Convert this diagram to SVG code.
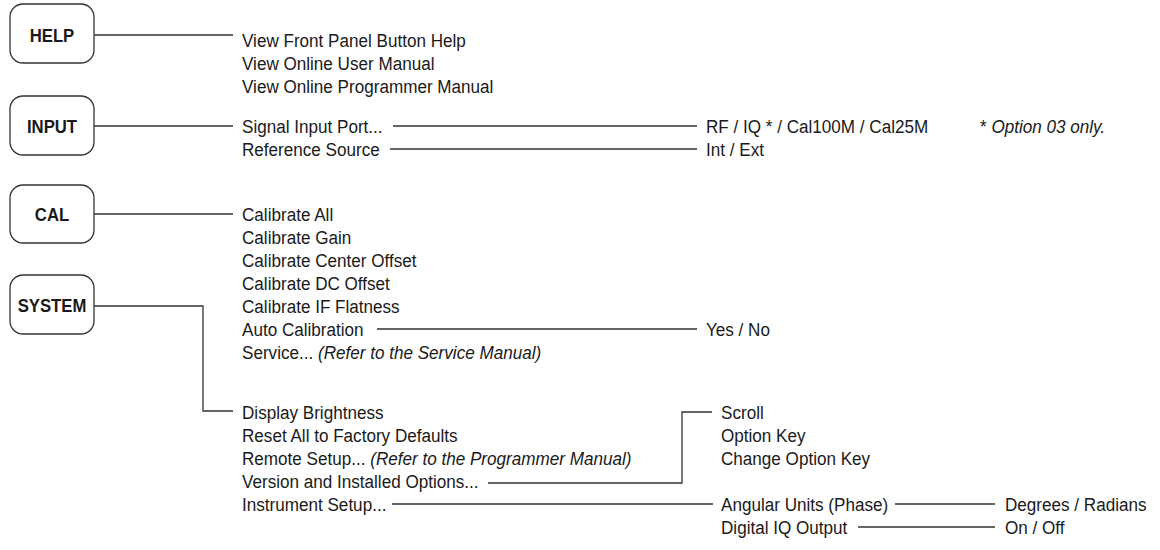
<svg xmlns="http://www.w3.org/2000/svg" width="1160" height="550" viewBox="0 0 1160 550">
<style>
.box{fill:#fff;stroke:#333;stroke-width:1.3}
.btn{font-family:"Liberation Sans",Arial,sans-serif;font-weight:bold;font-size:19px;fill:#1a1a1a;text-anchor:middle}
.t{font-family:"Liberation Sans",Arial,sans-serif;font-size:19px;fill:#1a1a1a}
.i{font-style:italic}
.c{fill:none;stroke:#333;stroke-width:1.3}
</style>
<rect width="1160" height="550" fill="#fff"/>
<g id="help"><rect class="box" x="10" y="4" width="84" height="59" rx="13"/><text class="btn" transform="translate(52 42) scale(0.88 1)">HELP</text></g>
<g id="input"><rect class="box" x="10" y="96" width="84" height="59" rx="13"/><text class="btn" transform="translate(52 133) scale(0.88 1)">INPUT</text></g>
<g id="cal"><rect class="box" x="10" y="185" width="84" height="58" rx="13"/><text class="btn" transform="translate(52 221) scale(0.88 1)">CAL</text></g>
<g id="system"><rect class="box" x="10" y="275" width="84" height="59" rx="13"/><text class="btn" transform="translate(52 312) scale(0.88 1)">SYSTEM</text></g>
<g id="connectors">
<path class="c" d="M94 35H233"/>
<path class="c" d="M94 126H233"/>
<path class="c" d="M94 214H233"/>
<path class="c" d="M94 306H203V411H233"/>
<path class="c" d="M393 126H697"/>
<path class="c" d="M390 149H697"/>
<path class="c" d="M377 329H697"/>
<path class="c" d="M488 483H682V412H712"/>
<path class="c" d="M392 504H713"/>
<path class="c" d="M895 504H995"/>
<path class="c" d="M858 527H995"/>
</g>
<g id="help-items">
<text class="t" transform="translate(242 47) scale(0.9 1)">View Front Panel Button Help</text>
<text class="t" transform="translate(242 70) scale(0.9 1)">View Online User Manual</text>
<text class="t" transform="translate(242 93) scale(0.9 1)">View Online Programmer Manual</text>
</g>
<g id="input-items">
<text class="t" transform="translate(242 133) scale(0.9 1)">Signal Input Port...</text>
<text class="t" transform="translate(242 156) scale(0.9 1)">Reference Source</text>
</g>
<g id="input-values">
<text class="t" transform="translate(706 133) scale(0.9 1)">RF / IQ * / Cal100M / Cal25M</text>
<text class="t" transform="translate(706 156) scale(0.9 1)">Int / Ext</text>
<text class="t" transform="translate(980 133) scale(0.9 1)">* <tspan class="i">Option 03 only.</tspan></text>
</g>
<g id="cal-items">
<text class="t" transform="translate(242 221) scale(0.9 1)">Calibrate All</text>
<text class="t" transform="translate(242 244) scale(0.9 1)">Calibrate Gain</text>
<text class="t" transform="translate(242 267) scale(0.9 1)">Calibrate Center Offset</text>
<text class="t" transform="translate(242 290) scale(0.9 1)">Calibrate DC Offset</text>
<text class="t" transform="translate(242 313) scale(0.9 1)">Calibrate IF Flatness</text>
<text class="t" transform="translate(242 336) scale(0.9 1)">Auto Calibration</text>
<text class="t" transform="translate(242 359) scale(0.9 1)">Service... <tspan class="i">(Refer to the Service Manual)</tspan></text>
</g>
<g id="cal-values"><text class="t" transform="translate(706 336) scale(0.9 1)">Yes / No</text></g>
<g id="system-items">
<text class="t" transform="translate(242 419) scale(0.9 1)">Display Brightness</text>
<text class="t" transform="translate(242 442) scale(0.9 1)">Reset All to Factory Defaults</text>
<text class="t" transform="translate(242 465) scale(0.9 1)">Remote Setup... <tspan class="i">(Refer to the Programmer Manual)</tspan></text>
<text class="t" transform="translate(242 488) scale(0.9 1)">Version and Installed Options...</text>
<text class="t" transform="translate(242 511) scale(0.9 1)">Instrument Setup...</text>
</g>
<g id="version-items">
<text class="t" transform="translate(721 419) scale(0.9 1)">Scroll</text>
<text class="t" transform="translate(721 442) scale(0.9 1)">Option Key</text>
<text class="t" transform="translate(721 465) scale(0.9 1)">Change Option Key</text>
</g>
<g id="instrument-items">
<text class="t" transform="translate(721 511) scale(0.9 1)">Angular Units (Phase)</text>
<text class="t" transform="translate(721 534) scale(0.9 1)">Digital IQ Output</text>
</g>
<g id="instrument-values">
<text class="t" transform="translate(1005 511) scale(0.9 1)">Degrees / Radians</text>
<text class="t" transform="translate(1005 534) scale(0.9 1)">On / Off</text>
</g>
</svg>
